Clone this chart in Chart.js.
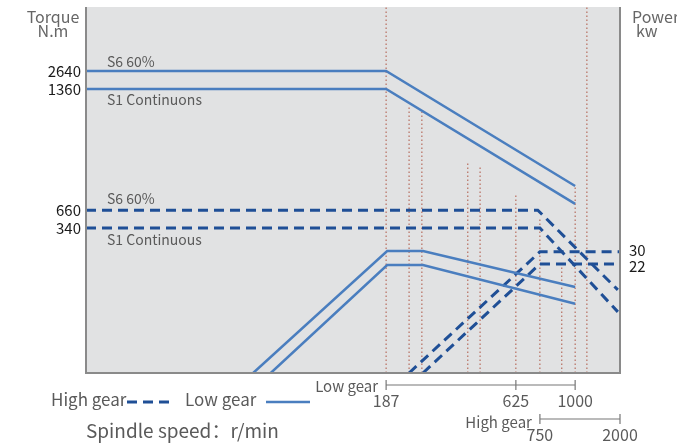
<!DOCTYPE html>
<html>
<head>
<meta charset="utf-8">
<script src="https://cdn.jsdelivr.net/npm/chart.js@4"></script>
<style>
  html, body { margin: 0; background: #fff; }
</style>
</head>
<body>
<canvas id="speedChart" width="677" height="448"></canvas>
<script>
// x and y are both 0..100 across the plot box (axes are not linear in rpm / Nm)
const torqueLabels = ['2640', '1360', '660', '340'];
const torqueLevels = [82.5, 77.6, 44.5, 39.6];
const powerLabels = ['30', '22'];
const powerLevels = [33.1, 29.8];
const lowGearSpeeds = ['187', '625', '1000'];
const lowGearMarks = [56.2, 80.5, 91.6];
const highGearSpeeds = ['750', '2000'];
const highGearMarks = [85.0, 100];

// low gear (solid)
const lowS6Torque = [{x: 0, y: 82.5}, {x: 56.2, y: 82.5}, {x: 91.6, y: 51.1}];
const lowS1Torque = [{x: 0, y: 77.6}, {x: 56.2, y: 77.6}, {x: 91.6, y: 46.2}];
const lowS6Power = [{x: 31.3, y: 0}, {x: 56.4, y: 33.3}, {x: 63.1, y: 33.3}, {x: 91.6, y: 23.5}];
const lowS1Power = [{x: 34.6, y: 0}, {x: 56.4, y: 29.5}, {x: 63.1, y: 29.5}, {x: 91.6, y: 18.9}];

// high gear (dashed)
const highS6Torque = [{x: 0, y: 44.5}, {x: 84.6, y: 44.5}, {x: 99.6, y: 22.7}];
const highS1Torque = [{x: 0, y: 39.6}, {x: 85.0, y: 39.6}, {x: 99.6, y: 16.7}];
const highS6Power = [{x: 60.5, y: 0}, {x: 85.0, y: 33.1}, {x: 100, y: 33.1}];
const highS1Power = [{x: 63.1, y: 0}, {x: 85.0, y: 29.8}, {x: 100, y: 29.8}];

// dotted guide lines: position and how high they reach
const guideX = [56.2, 60.5, 62.9, 71.5, 73.8, 80.5, 85.0, 89.1, 91.6, 93.8];
const guideTop = [100, 73.2, 71.3, 57.4, 56.3, 48.6, 42.3, 29.5, 51.1, 100];

const FONT = '"Noto Sans CJK SC", "Noto Sans", sans-serif';
const SOLID = '#4a7ebf';
const DASHED = '#1f4f96';
const TEXT = '#5a5a5a';

function solid(data) {
  return { data: data, borderColor: SOLID, borderWidth: 2.5, pointRadius: 0, fill: false };
}
function dashed(data) {
  return { data: data, borderColor: DASHED, borderWidth: 3, borderDash: [10, 6], pointRadius: 0, fill: false };
}

const guides = guideX.map((x, i) => ({
  data: [{x: x, y: 0}, {x: x, y: guideTop[i]}],
  borderColor: 'rgba(170, 70, 50, 0.9)',
  borderWidth: 1,
  borderDash: [1.5, 2.5],
  pointRadius: 0
}));

function txt(ctx, s, x, y, size, color, align) {
  ctx.font = size + 'px ' + FONT;
  ctx.fillStyle = color;
  ctx.textAlign = align;
  ctx.textBaseline = 'middle';
  ctx.fillText(s, x, y);
}

function speedAxis(ctx, xs, marks, labels, lineY, labelY, title, titleY) {
  const x0 = xs.getPixelForValue(marks[0]);
  const x1 = xs.getPixelForValue(marks[marks.length - 1]);
  ctx.strokeStyle = '#777';
  ctx.lineWidth = 1.2;
  ctx.beginPath();
  ctx.moveTo(x0, lineY);
  ctx.lineTo(x1, lineY);
  marks.forEach(m => {
    const px = xs.getPixelForValue(m);
    ctx.moveTo(px, lineY - 5);
    ctx.lineTo(px, lineY + 5);
  });
  ctx.stroke();
  marks.forEach((m, i) => txt(ctx, labels[i], xs.getPixelForValue(m), labelY, 16, TEXT, 'center'));
  txt(ctx, title, x0 - 8, titleY, 15, TEXT, 'right');
}

const decor = {
  id: 'decor',
  beforeDatasetsDraw(chart) {
    const {ctx, chartArea: a} = chart;
    ctx.save();
    ctx.fillStyle = '#e1e2e3';
    ctx.fillRect(a.left, a.top, a.right - a.left, a.bottom - a.top);
    ctx.restore();
  },
  afterDraw(chart) {
    const {ctx, chartArea: a} = chart;
    const xs = chart.scales.x, ys = chart.scales.y;
    ctx.save();

    // frame
    ctx.strokeStyle = '#8a8a8a';
    ctx.lineWidth = 2;
    ctx.beginPath();
    ctx.moveTo(a.left, a.top);
    ctx.lineTo(a.left, a.bottom);
    ctx.lineTo(a.right, a.bottom);
    ctx.lineTo(a.right, a.top);
    ctx.stroke();

    // axis titles
    txt(ctx, 'Torque', 53, 17, 16, '#666', 'center');
    txt(ctx, 'N.m', 53, 31, 16, '#666', 'center');
    txt(ctx, 'Power', 632, 17, 16, '#666', 'left');
    txt(ctx, 'kw', 636, 31, 16, '#666', 'left');

    // value labels on both sides
    torqueLevels.forEach((v, i) => txt(ctx, torqueLabels[i], a.left - 5, ys.getPixelForValue(v), 15, '#1a1a1a', 'right'));
    powerLevels.forEach((v, i) => txt(ctx, powerLabels[i], a.right + 9, ys.getPixelForValue(v) + (i === 0 ? -2 : 2), 15, '#1a1a1a', 'left'));

    // curve names
    const lx = a.left + 21;
    txt(ctx, 'S6 60%', lx, ys.getPixelForValue(torqueLevels[0]) - 9, 14, TEXT, 'left');
    txt(ctx, 'S1 Continuons', lx, ys.getPixelForValue(torqueLevels[1]) + 11, 14, TEXT, 'left');
    txt(ctx, 'S6 60%', lx, ys.getPixelForValue(torqueLevels[2]) - 11, 14, TEXT, 'left');
    txt(ctx, 'S1 Continuous', lx, ys.getPixelForValue(torqueLevels[3]) + 12, 14, TEXT, 'left');

    // speed scales under the plot
    speedAxis(ctx, xs, lowGearMarks, lowGearSpeeds, 385, 401, 'Low gear', 386);
    speedAxis(ctx, xs, highGearMarks, highGearSpeeds, 419, 435, 'High gear', 422);

    // legend
    txt(ctx, 'High gear', 51, 400, 17, TEXT, 'left');
    ctx.strokeStyle = DASHED;
    ctx.lineWidth = 3;
    ctx.setLineDash([10, 6]);
    ctx.beginPath();
    ctx.moveTo(127, 402);
    ctx.lineTo(170, 402);
    ctx.stroke();
    txt(ctx, 'Low gear', 185, 400, 17, TEXT, 'left');
    ctx.setLineDash([]);
    ctx.strokeStyle = SOLID;
    ctx.lineWidth = 2.5;
    ctx.beginPath();
    ctx.moveTo(266, 402);
    ctx.lineTo(310, 402);
    ctx.stroke();
    txt(ctx, 'Spindle speed：r/min', 86, 431, 19, TEXT, 'left');

    ctx.restore();
  }
};

const ctx = document.getElementById('speedChart').getContext('2d');
const speedChart = new Chart(ctx, {
  type: 'line',
  data: {
    datasets: [
      solid(lowS6Torque),
      solid(lowS1Torque),
      solid(lowS6Power),
      solid(lowS1Power),
      dashed(highS6Torque),
      dashed(highS1Torque),
      dashed(highS6Power),
      dashed(highS1Power)
    ].concat(guides)
  },
  options: {
    responsive: false,
    animation: false,
    layout: { padding: { left: 86, right: 57, top: 7, bottom: 75 } },
    scales: {
      x: { type: 'linear', min: 0, max: 100, display: false },
      y: { type: 'linear', min: 0, max: 100, display: false }
    },
    plugins: {
      legend: { display: false },
      tooltip: { enabled: false }
    }
  },
  plugins: [decor]
});
</script>
</body>
</html>
